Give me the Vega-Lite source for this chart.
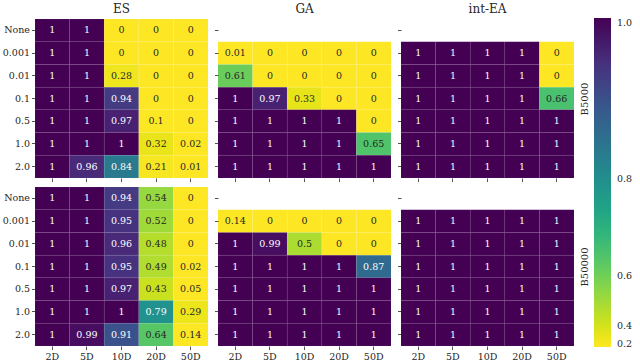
{
  "$schema": "https://vega.github.io/schema/vega-lite/v6.json",
  "padding": {"left": 2, "top": 2, "right": 0, "bottom": 0},
  "background": "white",
  "config": {
    "view": {"stroke": null},
    "font": "DejaVu Serif",
    "axis": {"labelFont": "DejaVu Serif", "labelFontSize": 9.5, "labelColor": "#262626", "domain": false, "tickColor": "#262626", "tickSize": 3.5, "tickWidth": 0.8, "labelPadding": 2, "title": null},
    "title": {"font": "DejaVu Serif", "fontSize": 12, "fontWeight": "normal", "color": "#262626", "offset": 3, "anchor": "middle"},
    "text": {"font": "DejaVu Serif", "fontSize": 9.5}
  },
  "data": {"values": [
    {"b":"B5000","a":"ES","s":"None","d":"2D","v":1},{"b":"B5000","a":"ES","s":"None","d":"5D","v":1},{"b":"B5000","a":"ES","s":"None","d":"10D","v":0},{"b":"B5000","a":"ES","s":"None","d":"20D","v":0},{"b":"B5000","a":"ES","s":"None","d":"50D","v":0},
    {"b":"B5000","a":"ES","s":"0.001","d":"2D","v":1},{"b":"B5000","a":"ES","s":"0.001","d":"5D","v":1},{"b":"B5000","a":"ES","s":"0.001","d":"10D","v":0},{"b":"B5000","a":"ES","s":"0.001","d":"20D","v":0},{"b":"B5000","a":"ES","s":"0.001","d":"50D","v":0},
    {"b":"B5000","a":"ES","s":"0.01","d":"2D","v":1},{"b":"B5000","a":"ES","s":"0.01","d":"5D","v":1},{"b":"B5000","a":"ES","s":"0.01","d":"10D","v":0.28},{"b":"B5000","a":"ES","s":"0.01","d":"20D","v":0},{"b":"B5000","a":"ES","s":"0.01","d":"50D","v":0},
    {"b":"B5000","a":"ES","s":"0.1","d":"2D","v":1},{"b":"B5000","a":"ES","s":"0.1","d":"5D","v":1},{"b":"B5000","a":"ES","s":"0.1","d":"10D","v":0.94},{"b":"B5000","a":"ES","s":"0.1","d":"20D","v":0},{"b":"B5000","a":"ES","s":"0.1","d":"50D","v":0},
    {"b":"B5000","a":"ES","s":"0.5","d":"2D","v":1},{"b":"B5000","a":"ES","s":"0.5","d":"5D","v":1},{"b":"B5000","a":"ES","s":"0.5","d":"10D","v":0.97},{"b":"B5000","a":"ES","s":"0.5","d":"20D","v":0.1},{"b":"B5000","a":"ES","s":"0.5","d":"50D","v":0},
    {"b":"B5000","a":"ES","s":"1.0","d":"2D","v":1},{"b":"B5000","a":"ES","s":"1.0","d":"5D","v":1},{"b":"B5000","a":"ES","s":"1.0","d":"10D","v":1},{"b":"B5000","a":"ES","s":"1.0","d":"20D","v":0.32},{"b":"B5000","a":"ES","s":"1.0","d":"50D","v":0.02},
    {"b":"B5000","a":"ES","s":"2.0","d":"2D","v":1},{"b":"B5000","a":"ES","s":"2.0","d":"5D","v":0.96},{"b":"B5000","a":"ES","s":"2.0","d":"10D","v":0.84},{"b":"B5000","a":"ES","s":"2.0","d":"20D","v":0.21},{"b":"B5000","a":"ES","s":"2.0","d":"50D","v":0.01},

    {"b":"B5000","a":"GA","s":"0.001","d":"2D","v":0.01},{"b":"B5000","a":"GA","s":"0.001","d":"5D","v":0},{"b":"B5000","a":"GA","s":"0.001","d":"10D","v":0},{"b":"B5000","a":"GA","s":"0.001","d":"20D","v":0},{"b":"B5000","a":"GA","s":"0.001","d":"50D","v":0},
    {"b":"B5000","a":"GA","s":"0.01","d":"2D","v":0.61},{"b":"B5000","a":"GA","s":"0.01","d":"5D","v":0},{"b":"B5000","a":"GA","s":"0.01","d":"10D","v":0},{"b":"B5000","a":"GA","s":"0.01","d":"20D","v":0},{"b":"B5000","a":"GA","s":"0.01","d":"50D","v":0},
    {"b":"B5000","a":"GA","s":"0.1","d":"2D","v":1},{"b":"B5000","a":"GA","s":"0.1","d":"5D","v":0.97},{"b":"B5000","a":"GA","s":"0.1","d":"10D","v":0.33},{"b":"B5000","a":"GA","s":"0.1","d":"20D","v":0},{"b":"B5000","a":"GA","s":"0.1","d":"50D","v":0},
    {"b":"B5000","a":"GA","s":"0.5","d":"2D","v":1},{"b":"B5000","a":"GA","s":"0.5","d":"5D","v":1},{"b":"B5000","a":"GA","s":"0.5","d":"10D","v":1},{"b":"B5000","a":"GA","s":"0.5","d":"20D","v":1},{"b":"B5000","a":"GA","s":"0.5","d":"50D","v":0},
    {"b":"B5000","a":"GA","s":"1.0","d":"2D","v":1},{"b":"B5000","a":"GA","s":"1.0","d":"5D","v":1},{"b":"B5000","a":"GA","s":"1.0","d":"10D","v":1},{"b":"B5000","a":"GA","s":"1.0","d":"20D","v":1},{"b":"B5000","a":"GA","s":"1.0","d":"50D","v":0.65},
    {"b":"B5000","a":"GA","s":"2.0","d":"2D","v":1},{"b":"B5000","a":"GA","s":"2.0","d":"5D","v":1},{"b":"B5000","a":"GA","s":"2.0","d":"10D","v":1},{"b":"B5000","a":"GA","s":"2.0","d":"20D","v":1},{"b":"B5000","a":"GA","s":"2.0","d":"50D","v":1},

    {"b":"B5000","a":"int-EA","s":"0.001","d":"2D","v":1},{"b":"B5000","a":"int-EA","s":"0.001","d":"5D","v":1},{"b":"B5000","a":"int-EA","s":"0.001","d":"10D","v":1},{"b":"B5000","a":"int-EA","s":"0.001","d":"20D","v":1},{"b":"B5000","a":"int-EA","s":"0.001","d":"50D","v":0},
    {"b":"B5000","a":"int-EA","s":"0.01","d":"2D","v":1},{"b":"B5000","a":"int-EA","s":"0.01","d":"5D","v":1},{"b":"B5000","a":"int-EA","s":"0.01","d":"10D","v":1},{"b":"B5000","a":"int-EA","s":"0.01","d":"20D","v":1},{"b":"B5000","a":"int-EA","s":"0.01","d":"50D","v":0},
    {"b":"B5000","a":"int-EA","s":"0.1","d":"2D","v":1},{"b":"B5000","a":"int-EA","s":"0.1","d":"5D","v":1},{"b":"B5000","a":"int-EA","s":"0.1","d":"10D","v":1},{"b":"B5000","a":"int-EA","s":"0.1","d":"20D","v":1},{"b":"B5000","a":"int-EA","s":"0.1","d":"50D","v":0.66},
    {"b":"B5000","a":"int-EA","s":"0.5","d":"2D","v":1},{"b":"B5000","a":"int-EA","s":"0.5","d":"5D","v":1},{"b":"B5000","a":"int-EA","s":"0.5","d":"10D","v":1},{"b":"B5000","a":"int-EA","s":"0.5","d":"20D","v":1},{"b":"B5000","a":"int-EA","s":"0.5","d":"50D","v":1},
    {"b":"B5000","a":"int-EA","s":"1.0","d":"2D","v":1},{"b":"B5000","a":"int-EA","s":"1.0","d":"5D","v":1},{"b":"B5000","a":"int-EA","s":"1.0","d":"10D","v":1},{"b":"B5000","a":"int-EA","s":"1.0","d":"20D","v":1},{"b":"B5000","a":"int-EA","s":"1.0","d":"50D","v":1},
    {"b":"B5000","a":"int-EA","s":"2.0","d":"2D","v":1},{"b":"B5000","a":"int-EA","s":"2.0","d":"5D","v":1},{"b":"B5000","a":"int-EA","s":"2.0","d":"10D","v":1},{"b":"B5000","a":"int-EA","s":"2.0","d":"20D","v":1},{"b":"B5000","a":"int-EA","s":"2.0","d":"50D","v":1},

    {"b":"B50000","a":"ES","s":"None","d":"2D","v":1},{"b":"B50000","a":"ES","s":"None","d":"5D","v":1},{"b":"B50000","a":"ES","s":"None","d":"10D","v":0.94},{"b":"B50000","a":"ES","s":"None","d":"20D","v":0.54},{"b":"B50000","a":"ES","s":"None","d":"50D","v":0},
    {"b":"B50000","a":"ES","s":"0.001","d":"2D","v":1},{"b":"B50000","a":"ES","s":"0.001","d":"5D","v":1},{"b":"B50000","a":"ES","s":"0.001","d":"10D","v":0.95},{"b":"B50000","a":"ES","s":"0.001","d":"20D","v":0.52},{"b":"B50000","a":"ES","s":"0.001","d":"50D","v":0},
    {"b":"B50000","a":"ES","s":"0.01","d":"2D","v":1},{"b":"B50000","a":"ES","s":"0.01","d":"5D","v":1},{"b":"B50000","a":"ES","s":"0.01","d":"10D","v":0.96},{"b":"B50000","a":"ES","s":"0.01","d":"20D","v":0.48},{"b":"B50000","a":"ES","s":"0.01","d":"50D","v":0},
    {"b":"B50000","a":"ES","s":"0.1","d":"2D","v":1},{"b":"B50000","a":"ES","s":"0.1","d":"5D","v":1},{"b":"B50000","a":"ES","s":"0.1","d":"10D","v":0.95},{"b":"B50000","a":"ES","s":"0.1","d":"20D","v":0.49},{"b":"B50000","a":"ES","s":"0.1","d":"50D","v":0.02},
    {"b":"B50000","a":"ES","s":"0.5","d":"2D","v":1},{"b":"B50000","a":"ES","s":"0.5","d":"5D","v":1},{"b":"B50000","a":"ES","s":"0.5","d":"10D","v":0.97},{"b":"B50000","a":"ES","s":"0.5","d":"20D","v":0.43},{"b":"B50000","a":"ES","s":"0.5","d":"50D","v":0.05},
    {"b":"B50000","a":"ES","s":"1.0","d":"2D","v":1},{"b":"B50000","a":"ES","s":"1.0","d":"5D","v":1},{"b":"B50000","a":"ES","s":"1.0","d":"10D","v":1},{"b":"B50000","a":"ES","s":"1.0","d":"20D","v":0.79},{"b":"B50000","a":"ES","s":"1.0","d":"50D","v":0.29},
    {"b":"B50000","a":"ES","s":"2.0","d":"2D","v":1},{"b":"B50000","a":"ES","s":"2.0","d":"5D","v":0.99},{"b":"B50000","a":"ES","s":"2.0","d":"10D","v":0.91},{"b":"B50000","a":"ES","s":"2.0","d":"20D","v":0.64},{"b":"B50000","a":"ES","s":"2.0","d":"50D","v":0.14},

    {"b":"B50000","a":"GA","s":"0.001","d":"2D","v":0.14},{"b":"B50000","a":"GA","s":"0.001","d":"5D","v":0},{"b":"B50000","a":"GA","s":"0.001","d":"10D","v":0},{"b":"B50000","a":"GA","s":"0.001","d":"20D","v":0},{"b":"B50000","a":"GA","s":"0.001","d":"50D","v":0},
    {"b":"B50000","a":"GA","s":"0.01","d":"2D","v":1},{"b":"B50000","a":"GA","s":"0.01","d":"5D","v":0.99},{"b":"B50000","a":"GA","s":"0.01","d":"10D","v":0.5},{"b":"B50000","a":"GA","s":"0.01","d":"20D","v":0},{"b":"B50000","a":"GA","s":"0.01","d":"50D","v":0},
    {"b":"B50000","a":"GA","s":"0.1","d":"2D","v":1},{"b":"B50000","a":"GA","s":"0.1","d":"5D","v":1},{"b":"B50000","a":"GA","s":"0.1","d":"10D","v":1},{"b":"B50000","a":"GA","s":"0.1","d":"20D","v":1},{"b":"B50000","a":"GA","s":"0.1","d":"50D","v":0.87},
    {"b":"B50000","a":"GA","s":"0.5","d":"2D","v":1},{"b":"B50000","a":"GA","s":"0.5","d":"5D","v":1},{"b":"B50000","a":"GA","s":"0.5","d":"10D","v":1},{"b":"B50000","a":"GA","s":"0.5","d":"20D","v":1},{"b":"B50000","a":"GA","s":"0.5","d":"50D","v":1},
    {"b":"B50000","a":"GA","s":"1.0","d":"2D","v":1},{"b":"B50000","a":"GA","s":"1.0","d":"5D","v":1},{"b":"B50000","a":"GA","s":"1.0","d":"10D","v":1},{"b":"B50000","a":"GA","s":"1.0","d":"20D","v":1},{"b":"B50000","a":"GA","s":"1.0","d":"50D","v":1},
    {"b":"B50000","a":"GA","s":"2.0","d":"2D","v":1},{"b":"B50000","a":"GA","s":"2.0","d":"5D","v":1},{"b":"B50000","a":"GA","s":"2.0","d":"10D","v":1},{"b":"B50000","a":"GA","s":"2.0","d":"20D","v":1},{"b":"B50000","a":"GA","s":"2.0","d":"50D","v":1},

    {"b":"B50000","a":"int-EA","s":"0.001","d":"2D","v":1},{"b":"B50000","a":"int-EA","s":"0.001","d":"5D","v":1},{"b":"B50000","a":"int-EA","s":"0.001","d":"10D","v":1},{"b":"B50000","a":"int-EA","s":"0.001","d":"20D","v":1},{"b":"B50000","a":"int-EA","s":"0.001","d":"50D","v":1},
    {"b":"B50000","a":"int-EA","s":"0.01","d":"2D","v":1},{"b":"B50000","a":"int-EA","s":"0.01","d":"5D","v":1},{"b":"B50000","a":"int-EA","s":"0.01","d":"10D","v":1},{"b":"B50000","a":"int-EA","s":"0.01","d":"20D","v":1},{"b":"B50000","a":"int-EA","s":"0.01","d":"50D","v":1},
    {"b":"B50000","a":"int-EA","s":"0.1","d":"2D","v":1},{"b":"B50000","a":"int-EA","s":"0.1","d":"5D","v":1},{"b":"B50000","a":"int-EA","s":"0.1","d":"10D","v":1},{"b":"B50000","a":"int-EA","s":"0.1","d":"20D","v":1},{"b":"B50000","a":"int-EA","s":"0.1","d":"50D","v":1},
    {"b":"B50000","a":"int-EA","s":"0.5","d":"2D","v":1},{"b":"B50000","a":"int-EA","s":"0.5","d":"5D","v":1},{"b":"B50000","a":"int-EA","s":"0.5","d":"10D","v":1},{"b":"B50000","a":"int-EA","s":"0.5","d":"20D","v":1},{"b":"B50000","a":"int-EA","s":"0.5","d":"50D","v":1},
    {"b":"B50000","a":"int-EA","s":"1.0","d":"2D","v":1},{"b":"B50000","a":"int-EA","s":"1.0","d":"5D","v":1},{"b":"B50000","a":"int-EA","s":"1.0","d":"10D","v":1},{"b":"B50000","a":"int-EA","s":"1.0","d":"20D","v":1},{"b":"B50000","a":"int-EA","s":"1.0","d":"50D","v":1},
    {"b":"B50000","a":"int-EA","s":"2.0","d":"2D","v":1},{"b":"B50000","a":"int-EA","s":"2.0","d":"5D","v":1},{"b":"B50000","a":"int-EA","s":"2.0","d":"10D","v":1},{"b":"B50000","a":"int-EA","s":"2.0","d":"20D","v":1},{"b":"B50000","a":"int-EA","s":"2.0","d":"50D","v":1}
  ]},
  "columns": 3,
  "spacing": {"row": 4, "column": 5},
  "concat": [
    {
      "width": 173, "height": 159,
      "title": "ES",
      "transform": [{"filter": "datum.b === 'B5000' && datum.a === 'ES'"}],
      "encoding": {
        "x": {"field": "d", "type": "ordinal", "scale": {"domain": ["2D","5D","10D","20D","50D"]}, "axis": {"labels": false}},
        "y": {"field": "s", "type": "ordinal", "scale": {"domain": ["None","0.001","0.01","0.1","0.5","1.0","2.0"]}, "axis": {"labels": true}}
      },
      "layer": [
        {"mark": {"type": "rect", "stroke": "white", "strokeWidth": 0.5, "strokeOpacity": 0.08},
         "encoding": {"color": {"field": "v", "type": "quantitative", "scale": {"type": "pow", "exponent": 3, "domain": [0, 1], "scheme": "viridis", "reverse": true},
           "legend": {"orient": "none", "legendX": 559, "legendY": -1, "direction": "vertical", "gradientLength": 329, "gradientThickness": 17, "gradientStrokeWidth": 0, "title": null, "values": [0.2, 0.4, 0.6, 0.8, 1.0], "format": ".1f", "labelFont": "DejaVu Serif", "labelFontSize": 9.5, "labelColor": "#262626", "labelOverlap": false, "labelOffset": 6}}}},
        {"mark": {"type": "text"},
         "encoding": {"text": {"field": "v", "type": "quantitative", "format": ".2~f"},
           "color": {"condition": {"test": "datum.v < 0.75", "value": "#262626"}, "value": "white"}}}
      ]
    },
    {
      "width": 173, "height": 159,
      "title": "GA",
      "transform": [{"filter": "datum.b === 'B5000' && datum.a === 'GA'"}],
      "encoding": {
        "x": {"field": "d", "type": "ordinal", "scale": {"domain": ["2D","5D","10D","20D","50D"]}, "axis": {"labels": false}},
        "y": {"field": "s", "type": "ordinal", "scale": {"domain": ["None","0.001","0.01","0.1","0.5","1.0","2.0"]}, "axis": {"labels": false}}
      },
      "layer": [
        {"mark": {"type": "rect", "stroke": "white", "strokeWidth": 0.5, "strokeOpacity": 0.08},
         "encoding": {"color": {"field": "v", "type": "quantitative"}}},
        {"mark": {"type": "text"},
         "encoding": {"text": {"field": "v", "type": "quantitative", "format": ".2~f"},
           "color": {"condition": {"test": "datum.v < 0.75", "value": "#262626"}, "value": "white"}}}
      ]
    },
    {
      "width": 173, "height": 159,
      "title": "int-EA",
      "transform": [{"filter": "datum.b === 'B5000' && datum.a === 'int-EA'"}],
      "encoding": {
        "x": {"field": "d", "type": "ordinal", "scale": {"domain": ["2D","5D","10D","20D","50D"]}, "axis": {"labels": false}}
      },
      "resolve": {"axis": {"y": "independent"}},
      "layer": [
        {"mark": {"type": "rect", "stroke": "white", "strokeWidth": 0.5, "strokeOpacity": 0.08},
         "encoding": {
           "y": {"field": "s", "type": "ordinal", "scale": {"domain": ["None","0.001","0.01","0.1","0.5","1.0","2.0"]}, "axis": {"labels": false}},
           "color": {"field": "v", "type": "quantitative"}}},
        {"mark": {"type": "text"},
         "encoding": {
           "y": {"field": "s", "type": "ordinal", "axis": {"orient": "right", "labels": false, "ticks": false, "title": "B5000", "titleAngle": 270, "titleFont": "DejaVu Serif", "titleFontSize": 10, "titleFontWeight": "normal", "titleColor": "#262626", "titlePadding": 15}},
           "text": {"field": "v", "type": "quantitative", "format": ".2~f"},
           "color": {"condition": {"test": "datum.v < 0.75", "value": "#262626"}, "value": "white"}}}
      ]
    },
    {
      "width": 173, "height": 159,
      "transform": [{"filter": "datum.b === 'B50000' && datum.a === 'ES'"}],
      "encoding": {
        "x": {"field": "d", "type": "ordinal", "scale": {"domain": ["2D","5D","10D","20D","50D"]}, "axis": {"labels": true, "labelAngle": 0}},
        "y": {"field": "s", "type": "ordinal", "scale": {"domain": ["None","0.001","0.01","0.1","0.5","1.0","2.0"]}, "axis": {"labels": true}}
      },
      "layer": [
        {"mark": {"type": "rect", "stroke": "white", "strokeWidth": 0.5, "strokeOpacity": 0.08},
         "encoding": {"color": {"field": "v", "type": "quantitative"}}},
        {"mark": {"type": "text"},
         "encoding": {"text": {"field": "v", "type": "quantitative", "format": ".2~f"},
           "color": {"condition": {"test": "datum.v < 0.75", "value": "#262626"}, "value": "white"}}}
      ]
    },
    {
      "width": 173, "height": 159,
      "transform": [{"filter": "datum.b === 'B50000' && datum.a === 'GA'"}],
      "encoding": {
        "x": {"field": "d", "type": "ordinal", "scale": {"domain": ["2D","5D","10D","20D","50D"]}, "axis": {"labels": true, "labelAngle": 0}},
        "y": {"field": "s", "type": "ordinal", "scale": {"domain": ["None","0.001","0.01","0.1","0.5","1.0","2.0"]}, "axis": {"labels": false}}
      },
      "layer": [
        {"mark": {"type": "rect", "stroke": "white", "strokeWidth": 0.5, "strokeOpacity": 0.08},
         "encoding": {"color": {"field": "v", "type": "quantitative"}}},
        {"mark": {"type": "text"},
         "encoding": {"text": {"field": "v", "type": "quantitative", "format": ".2~f"},
           "color": {"condition": {"test": "datum.v < 0.75", "value": "#262626"}, "value": "white"}}}
      ]
    },
    {
      "width": 173, "height": 159,
      "transform": [{"filter": "datum.b === 'B50000' && datum.a === 'int-EA'"}],
      "encoding": {
        "x": {"field": "d", "type": "ordinal", "scale": {"domain": ["2D","5D","10D","20D","50D"]}, "axis": {"labels": true, "labelAngle": 0}}
      },
      "resolve": {"axis": {"y": "independent"}},
      "layer": [
        {"mark": {"type": "rect", "stroke": "white", "strokeWidth": 0.5, "strokeOpacity": 0.08},
         "encoding": {
           "y": {"field": "s", "type": "ordinal", "scale": {"domain": ["None","0.001","0.01","0.1","0.5","1.0","2.0"]}, "axis": {"labels": false}},
           "color": {"field": "v", "type": "quantitative"}}},
        {"mark": {"type": "text"},
         "encoding": {
           "y": {"field": "s", "type": "ordinal", "axis": {"orient": "right", "labels": false, "ticks": false, "title": "B50000", "titleAngle": 270, "titleFont": "DejaVu Serif", "titleFontSize": 10, "titleFontWeight": "normal", "titleColor": "#262626", "titlePadding": 15}},
           "text": {"field": "v", "type": "quantitative", "format": ".2~f"},
           "color": {"condition": {"test": "datum.v < 0.75", "value": "#262626"}, "value": "white"}}}
      ]
    }
  ]
}
